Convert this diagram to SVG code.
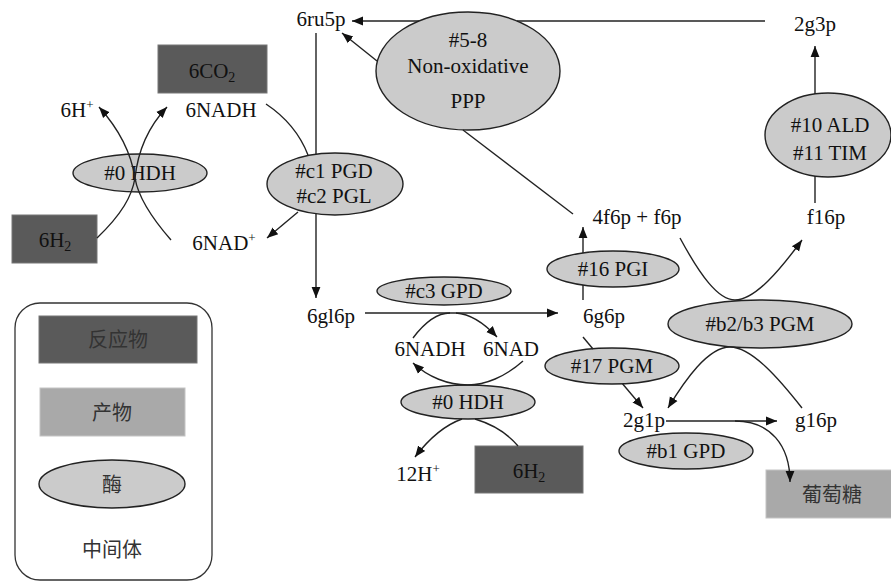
<svg xmlns="http://www.w3.org/2000/svg" width="891" height="584" viewBox="0 0 891 584">
<style>
text{font-family:"Liberation Serif","Noto Sans CJK SC",serif;font-size:21px;fill:#111;text-anchor:middle}
.cjk{fill:#333;font-size:20px}
.dark{fill:#5a5a5a;stroke:#777;stroke-width:1}
.light{fill:#a9a9a9;stroke:#c4c4c4;stroke-width:1}
.enz{fill:#cbcbcb;stroke:#222;stroke-width:1.4}
.c{fill:none;stroke:#222;stroke-width:1.4}
.a{marker-end:url(#ah)}
</style>
<defs>
<marker id="ah" viewBox="0 0 10 10" refX="10" refY="5" markerWidth="11" markerHeight="11" markerUnits="userSpaceOnUse" orient="auto"><path d="M0,1 L10,5 L0,9 z" fill="#111"/></marker>
</defs>
<rect width="891" height="584" fill="#fff"/>

<g id="legend">
<rect x="15" y="303" width="197" height="277" rx="25" fill="none" stroke="#333" stroke-width="1.3"/>
<rect class="dark" x="39" y="316" width="158" height="47"/>
<text class="cjk" x="118" y="347">反应物</text>
<rect class="light" x="40" y="388" width="145" height="48"/>
<text class="cjk" x="112" y="420">产物</text>
<ellipse class="enz" cx="112" cy="484" rx="73" ry="24"/>
<text class="cjk" x="112" y="492">酶</text>
<text class="cjk" x="112" y="557">中间体</text>
</g>

<g id="n-6co2"><rect class="dark" x="158" y="45" width="109" height="48"/><text x="212" y="78" fill="#222">6CO<tspan font-size="14" dy="4">2</tspan></text></g>
<g id="n-6hplus"><text x="77" y="117">6H<tspan font-size="13" dy="-8">+</tspan></text></g>
<g id="n-6nadh"><text x="221" y="117">6NADH</text></g>
<g id="n-hdh1"><ellipse class="enz" cx="140" cy="173" rx="67" ry="19"/><text x="140" y="180">#0 HDH</text></g>
<g id="n-6h2a"><rect class="dark" x="12" y="215" width="85" height="48"/><text x="55" y="247" fill="#222">6H<tspan font-size="14" dy="4">2</tspan></text></g>
<g id="n-6nadplus"><text x="224" y="250">6NAD<tspan font-size="13" dy="-8">+</tspan></text></g>
<g id="n-6ru5p"><text x="321" y="26">6ru5p</text></g>
<g id="n-ppp"><ellipse class="enz" cx="468" cy="71" rx="92" ry="59"/><text x="468" y="47">#5-8</text><text x="468" y="73">Non-oxidative</text><text x="468" y="108">PPP</text></g>
<g id="n-pgd"><ellipse class="enz" cx="335" cy="184" rx="68" ry="31"/><text x="334" y="178">#c1 PGD</text><text x="334" y="203">#c2 PGL</text></g>
<g id="n-6gl6p"><text x="331" y="323">6gl6p</text></g>
<g id="n-gpd3"><ellipse class="enz" cx="444" cy="291" rx="67" ry="14"/><text x="444" y="298">#c3 GPD</text></g>
<g id="n-6g6p"><text x="604" y="323">6g6p</text></g>
<g id="n-6nadh2"><text x="430" y="356">6NADH</text></g>
<g id="n-6nad2"><text x="511" y="356">6NAD</text></g>
<g id="n-hdh2"><ellipse class="enz" cx="468" cy="402" rx="67" ry="17"/><text x="468" y="409">#0 HDH</text></g>
<g id="n-12hplus"><text x="418" y="481">12H<tspan font-size="13" dy="-8">+</tspan></text></g>
<g id="n-6h2b"><rect class="dark" x="475" y="446" width="108" height="47"/><text x="529" y="478" fill="#222">6H<tspan font-size="14" dy="4">2</tspan></text></g>
<g id="n-pgi"><ellipse class="enz" cx="613" cy="269" rx="66" ry="18"/><text x="613" y="276">#16 PGI</text></g>
<g id="n-4f6p"><text x="637" y="224">4f6p + f6p</text></g>
<g id="n-f16p"><text x="826" y="224">f16p</text></g>
<g id="n-2g3p"><text x="815" y="31">2g3p</text></g>
<g id="n-ald"><ellipse class="enz" cx="828" cy="135" rx="63" ry="42"/><text x="830" y="132">#10 ALD</text><text x="830" y="160">#11 TIM</text></g>
<g id="n-pgmb"><ellipse class="enz" cx="760" cy="324" rx="92" ry="24"/><text x="760" y="331">#b2/b3 PGM</text></g>
<g id="n-pgm17"><ellipse class="enz" cx="612" cy="366" rx="67" ry="18"/><text x="612" y="373">#17 PGM</text></g>
<g id="n-2g1p"><text x="644" y="427">2g1p</text></g>
<g id="n-g16p"><text x="816" y="427">g16p</text></g>
<g id="n-gpdb1"><ellipse class="enz" cx="686" cy="451" rx="67" ry="18"/><text x="686" y="458">#b1 GPD</text></g>
<g id="n-glucose"><rect class="light" x="766" y="470" width="130" height="48"/><text class="cjk" x="832" y="502">葡萄糖</text></g>

<g id="connectors">
<path class="c" d="M97,238 C122,214 132,196 135,178 C138,150 150,125 167,107" marker-end="url(#ah)"/>
<path class="c" d="M171,240 C150,216 138,196 135,178 C131,152 118,128 99,107" marker-end="url(#ah)"/>
<path class="c" d="M765,21 L517,21"/>
<path class="c a" d="M419,21 L352,21"/>
<path class="c a" d="M377,61 L342,33"/>
<path class="c" d="M463,130 L573,214"/>
<path class="c" d="M316,33 L316,154"/>
<path class="c a" d="M316,214 L316,298"/>
<path class="c" d="M266,104 Q296,124 308,155"/>
<path class="c a" d="M298,212 L267,238"/>
<path class="c a" d="M365,313 L558,313"/>
<path class="c" d="M413,338 C425,322 438,313 450,313"/>
<path class="c a" d="M456,313 C470,314 485,324 497,337"/>
<path class="c a" d="M523,361 C505,377 485,385 468,385 C448,385 428,377 413,363"/>
<path class="c a" d="M462,419 C445,425 428,440 415,457"/>
<path class="c" d="M475,419 C495,425 508,434 518,446"/>
<path class="c" d="M583,300 L583,285"/>
<path class="c a" d="M583,253 L583,227"/>
<path class="c" d="M583,337 L593,349"/>
<path class="c a" d="M622.5,383.8 L643,408"/>
<path class="c a" d="M815,94 L815,46"/>
<path class="c" d="M815,176 L815,203"/>
<path class="c a" d="M680,238 C700,275 718,300 735,300 C755,300 780,270 802,240"/>
<path class="c a" d="M802,408 C780,380 752,347 730,347 C708,347 685,380 668,408"/>
<path class="c a" d="M666,421 L777,421"/>
<path class="c a" d="M735,421 C770,421 790,445 790,482"/>
</g>
</svg>
